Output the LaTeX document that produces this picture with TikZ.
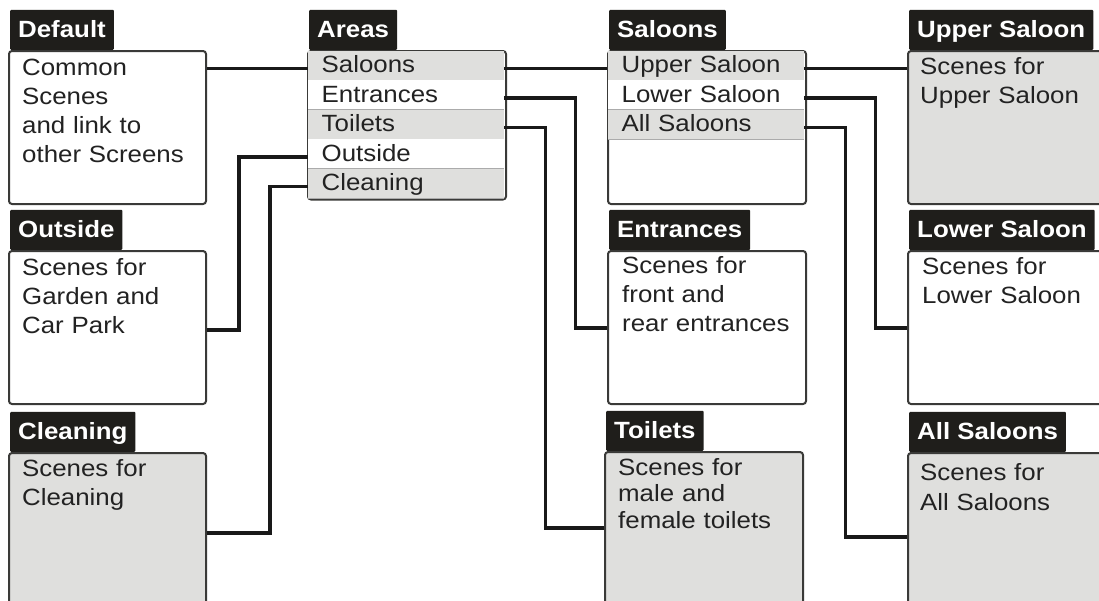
\documentclass[tikz,border=0pt]{standalone}
\usepackage{fontspec}
\setmainfont{Liberation Sans}[FakeStretch=1.1]
\usepackage{tikz}
\definecolor{panelgray}{HTML}{DFDFDD}
\definecolor{tabblack}{HTML}{1F1E1B}
\definecolor{edgegray}{HTML}{3A3A38}
\definecolor{inkdark}{HTML}{222222}
\definecolor{sepgray}{HTML}{ABABAB}
\newcommand{\scrfont}{\fontsize{23.5}{29.3}\selectfont}
\newcommand{\scrfontat}[1]{\fontsize{23.5}{#1}\selectfont}
\tikzset{
  scr-panel/.style={draw=edgegray, line width=2pt, rounded corners=3pt, fill=white,
    anchor=north west, inner sep=0pt},
  scr-tab/.style={fill=tabblack, text=white, font=\scrfont\bfseries, anchor=south west,
    minimum height=40pt, inner xsep=8pt, inner ysep=0pt, text height=19pt, text depth=4.5pt,
    rounded corners=1pt},
  scr-row/.style={anchor=north west, minimum height=29.5pt, text width=169pt, inner xsep=13.5pt,
    inner ysep=0pt, text height=19pt, text depth=4.5pt, font=\scrfont, text=inkdark, align=left},
  scr-text/.style={anchor=base west, text width=180pt, inner sep=0pt, align=left,
    font=\scrfont, text=inkdark},
  scr-sep/.style={draw=sepgray, line width=0.9pt},
  scr-link/.style={draw=black!90, line width=3.4pt}
}

\begin{document}
\begin{tikzpicture}[x=1pt, y=-1pt]
  \useasboundingbox (0,0) rectangle (1099,600);
  \clip (0,0) rectangle (1099,600);

  % Screen panels
  \node[scr-panel, minimum width=197pt, minimum height=153pt] (default) at (8,50) {};
  \node[scr-panel, minimum width=197pt, minimum height=153pt] (outside) at (8,250) {};
  \node[scr-panel, fill=panelgray, minimum width=197pt, minimum height=170pt] (cleaning) at (8,452) {};
  \node[scr-panel, minimum width=198pt, minimum height=148.5pt] (areas) at (307,50) {};
  \node[scr-panel, minimum width=198pt, minimum height=153pt] (saloons) at (607,50) {};
  \node[scr-panel, minimum width=198pt, minimum height=153pt] (entrances) at (607,250) {};
  \node[scr-panel, fill=panelgray, minimum width=198pt, minimum height=170pt] (toilets) at (604,451) {};
  \node[scr-panel, fill=panelgray, minimum width=220pt, minimum height=153pt] (upper) at (907,50) {};
  \node[scr-panel, minimum width=220pt, minimum height=153pt] (lower) at (907,250) {};
  \node[scr-panel, fill=panelgray, minimum width=220pt, minimum height=170pt] (allsal) at (907,452) {};

  % Title tabs
  \foreach \panel/\title in {default/Default, outside/Outside, cleaning/Cleaning, areas/Areas,
      saloons/Saloons, entrances/Entrances, toilets/Toilets, upper/Upper Saloon,
      lower/Lower Saloon, allsal/All Saloons} {
    \node[scr-tab] (\panel-tab) at ([xshift=2pt]\panel.north west) {\title};
  }

  % Menu rows
  \foreach \i/\name/\txt/\shade in {1/ar-sal/Saloons/panelgray, 2/ar-ent/Entrances/white,
      3/ar-toi/Toilets/panelgray, 4/ar-out/Outside/white, 5/ar-cln/Cleaning/panelgray} {
    \node[scr-row, fill=\shade] (\name) at ([xshift=1pt, yshift={-(0.5+(\i-1)*29.5)*1pt}]areas.north west) {\txt};
    \draw[scr-sep] (\name.south west) -- (\name.south east);
    \coordinate (\name-l) at ([yshift=-3pt]\name.west);
    \coordinate (\name-r) at ([yshift=-3pt]\name.east);
  }
  \foreach \i/\name/\txt/\shade in {1/sa-up/Upper Saloon/panelgray, 2/sa-low/Lower Saloon/white,
      3/sa-all/All Saloons/panelgray} {
    \node[scr-row, fill=\shade] (\name) at ([xshift=1pt, yshift={-(0.5+(\i-1)*29.5)*1pt}]saloons.north west) {\txt};
    \draw[scr-sep] (\name.south west) -- (\name.south east);
    \coordinate (\name-r) at ([yshift=-3pt]\name.east);
  }

  % Panel texts
  \node[scr-text] (default-txt) at ([xshift=14pt, yshift=-25pt]default.north west)
    {Common\\Scenes\\and link to\\other Screens};
  \node[scr-text] (outside-txt) at ([xshift=14pt, yshift=-25pt]outside.north west)
    {Scenes for\\Garden and\\Car Park};
  \node[scr-text] (cleaning-txt) at ([xshift=14pt, yshift=-24pt]cleaning.north west)
    {Scenes for\\Cleaning};
  \node[scr-text] (entrances-txt) at ([xshift=15pt, yshift=-23pt]entrances.north west)
    {Scenes for\\front and\\rear entrances};
  \node[scr-text, font=\scrfontat{26.5}] (toilets-txt) at ([xshift=14pt, yshift=-24pt]toilets.north west)
    {Scenes for\\male and\\female toilets};
  \node[scr-text] (upper-txt) at ([xshift=13pt, yshift=-24pt]upper.north west)
    {Scenes for\\Upper Saloon};
  \node[scr-text] (lower-txt) at ([xshift=15pt, yshift=-24pt]lower.north west)
    {Scenes for\\Lower Saloon};
  \node[scr-text, font=\scrfontat{30}] (allsal-txt) at ([xshift=13pt, yshift=-28pt]allsal.north west)
    {Scenes for\\All Saloons};

  % Links between screens
  \draw[scr-link] (ar-sal-l) -- (ar-sal-l -| default.east);
  \draw[scr-link] (ar-out-l) -- ++(-69,0) |- ([yshift=-80pt]outside.north east);
  \draw[scr-link] (ar-cln-l) -- ++(-38,0) |- ([yshift=-81pt]cleaning.north east);
  \draw[scr-link] (ar-sal-r) -- (ar-sal-r -| saloons.west);
  \draw[scr-link] (ar-ent-r) -- ++(71,0) |- ([yshift=-78pt]entrances.north west);
  \draw[scr-link] (ar-toi-r) -- ++(41,0) |- ([yshift=-77pt]toilets.north west);
  \draw[scr-link] (sa-up-r) -- (sa-up-r -| upper.west);
  \draw[scr-link] (sa-low-r) -- ++(71,0) |- ([yshift=-78pt]lower.north west);
  \draw[scr-link] (sa-all-r) -- ++(41,0) |- ([yshift=-85pt]allsal.north west);
\end{tikzpicture}
\end{document}
